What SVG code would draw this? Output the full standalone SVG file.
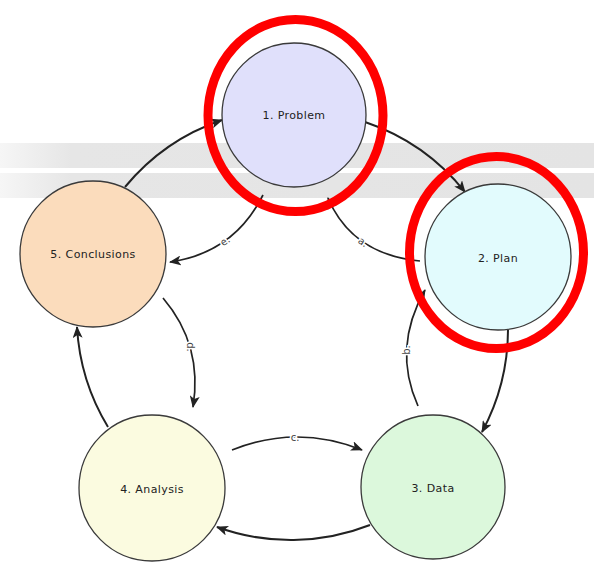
<svg xmlns="http://www.w3.org/2000/svg" width="594" height="566" viewBox="0 0 594 566">
<defs>
<linearGradient id="band" x1="0" y1="0" x2="1" y2="0">
<stop offset="0" stop-color="#f6f6f6"/>
<stop offset="0.12" stop-color="#e6e6e6"/>
<stop offset="1" stop-color="#e4e4e4"/>
</linearGradient>
<marker id="ah" viewBox="0 0 12 10" refX="11" refY="5" markerWidth="12" markerHeight="10" markerUnits="userSpaceOnUse" orient="auto">
<path d="M0,0 L12,5 L0,10 L3,5 z" fill="#222"/>
</marker>
<style>
.node circle{stroke:#3a3a3a;stroke-width:1.3}
.node text{font-family:"DejaVu Sans",Verdana,sans-serif;font-size:11px;fill:#222;text-anchor:middle;dominant-baseline:central;letter-spacing:0.4px}
.edge{fill:none;stroke:#222;stroke-width:2;marker-end:url(#ah)}
.inner{stroke-width:1.7}
.lbl{font-family:"DejaVu Sans",Verdana,sans-serif;font-size:10px;fill:#444;text-anchor:middle;dominant-baseline:central;paint-order:stroke;stroke:#fff;stroke-width:3px}
.hl{fill:none;stroke:#ff0000;stroke-width:9}
</style>
</defs>
<rect width="594" height="566" fill="#fff"/>
<rect x="0" y="143" width="594" height="25" fill="url(#band)"/>
<rect x="0" y="173" width="594" height="25" fill="url(#band)"/>
<g id="connectors">
<path class="edge" d="M365,122 A216,216 0 0 1 465,192"/>
<path class="edge" d="M508,330 A216,216 0 0 1 482,432"/>
<path class="edge" d="M370,525 A216,216 0 0 1 217,527"/>
<path class="edge" d="M108,427 A216,216 0 0 1 77,327"/>
<path class="edge" d="M125,187 A216,216 0 0 1 222,120"/>
<path class="edge inner" d="M420,261 Q352,254.5 328,198"/>
<path class="edge inner" d="M418,406 Q392,348 425,290"/>
<path class="edge inner" d="M232,450 Q297,424 362,450"/>
<path class="edge inner" d="M163,298 Q203,345 193,407"/>
<path class="edge inner" d="M263,195 Q234,253 170,262"/>
<text class="lbl" x="363" y="242" transform="rotate(34 363 242)">a.</text>
<text class="lbl" x="406" y="350" transform="rotate(-90 406 350)">b.</text>
<text class="lbl" x="295" y="437">c.</text>
<text class="lbl" x="190" y="347" transform="rotate(90 190 347)">d.</text>
<text class="lbl" x="225" y="241" transform="rotate(-36 225 241)">e.</text>
</g>
<g id="node1" class="node"><circle cx="294" cy="115" r="72" fill="#e0e0fb"/><text x="294" y="115">1. Problem</text></g>
<g id="node2" class="node"><circle cx="498" cy="257" r="73" fill="#e2fbfd"/><text x="498" y="258">2. Plan</text></g>
<g id="node3" class="node"><circle cx="433" cy="487" r="72" fill="#dcf8dc"/><text x="433" y="488">3. Data</text></g>
<g id="node4" class="node"><circle cx="152" cy="488" r="73" fill="#fbfbe0"/><text x="152" y="489">4. Analysis</text></g>
<g id="node5" class="node"><circle cx="93" cy="254" r="73" fill="#fbdcbc"/><text x="93" y="254">5. Conclusions</text></g>
<ellipse class="hl" cx="295.5" cy="115.5" rx="87.5" ry="96"/>
<ellipse class="hl" cx="496.5" cy="252.5" rx="87" ry="96"/>
</svg>
